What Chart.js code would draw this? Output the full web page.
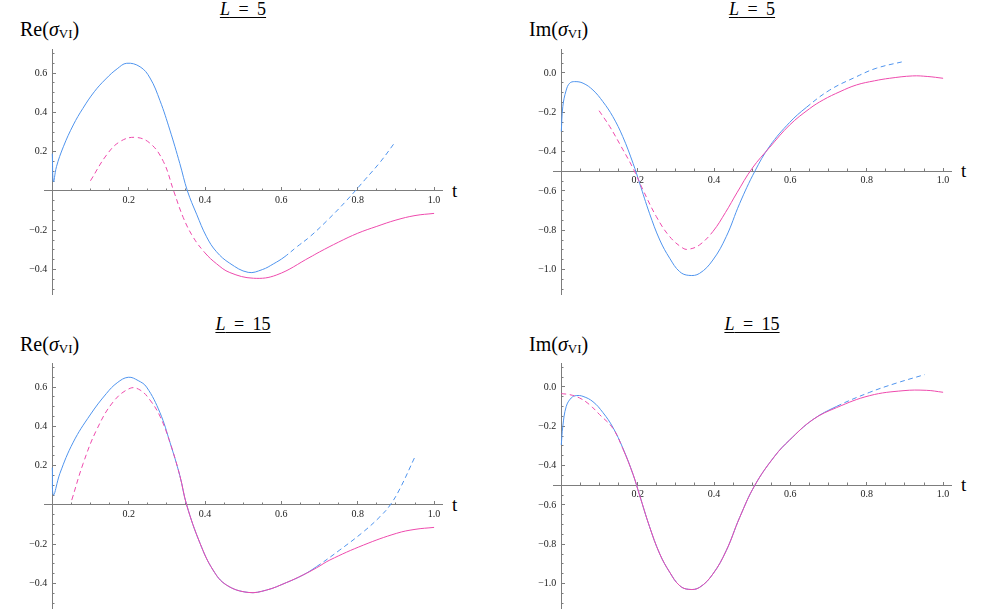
<!DOCTYPE html>
<html>
<head>
<meta charset="utf-8">
<script src="https://cdn.jsdelivr.net/npm/chart.js@4.4.1/dist/chart.umd.min.js"></script>
<style>
  body { margin: 0; background: #fff; width: 986px; height: 609px; position: relative; overflow: hidden;
         font-family: "Liberation Serif", serif; color: #000; }
  canvas { position: absolute; }
  .ttl { position: absolute; width: 200px; text-align: center; font-size: 18px; line-height: 18px; word-spacing: 4px; white-space: nowrap; }
  .ttl span { text-decoration: underline; text-underline-offset: 2px; text-decoration-thickness: 1px; }
  .ylab { position: absolute; font-size: 20px; line-height: 20px; white-space: nowrap; }
  .ylab .s { font-size: 13px; position: relative; top: 2px; }
  .tlab { position: absolute; font-size: 19px; line-height: 19px; }
</style>
</head>
<body>
<div class="ttl" style="left:143px;top:0px"><span><i>L</i> = 5</span></div>
<div class="ttl" style="left:652px;top:0px"><span><i>L</i> = 5</span></div>
<div class="ttl" style="left:143px;top:315px"><span><i>L</i> = 15</span></div>
<div class="ttl" style="left:652px;top:315px"><span><i>L</i> = 15</span></div>

<div class="ylab" style="left:20px;top:19px">Re(<i>σ</i><span class="s">VI</span>)</div>
<div class="ylab" style="left:529px;top:19px">Im(<i>σ</i><span class="s">VI</span>)</div>
<div class="ylab" style="left:20px;top:334px">Re(<i>σ</i><span class="s">VI</span>)</div>
<div class="ylab" style="left:529px;top:334px">Im(<i>σ</i><span class="s">VI</span>)</div>

<div class="tlab" style="left:452px;top:181px">t</div>
<div class="tlab" style="left:961px;top:161px">t</div>
<div class="tlab" style="left:452px;top:495px">t</div>
<div class="tlab" style="left:961px;top:475px">t</div>

<canvas id="c1" width="477" height="295" style="left:0px;top:0px"></canvas>
<canvas id="c2" width="477" height="295" style="left:509px;top:0px"></canvas>
<canvas id="c3" width="477" height="295" style="left:0px;top:314px"></canvas>
<canvas id="c4" width="477" height="295" style="left:509px;top:314px"></canvas>

<script>
Chart.defaults.font.family = '"Liberation Serif", "Times New Roman", serif'

// tick labels
const tTicks = [0.2, 0.4, 0.6, 0.8, 1.0]
const tMinor = [0.05, 0.1, 0.15, 0.25, 0.3, 0.35, 0.45, 0.5, 0.55, 0.65, 0.7, 0.75, 0.85, 0.9, 0.95]
const reTicks = [-0.4, -0.2, 0.2, 0.4, 0.6]
const reMinor = [-0.5, -0.45, -0.35, -0.3, -0.25, -0.15, -0.1, -0.05, 0.05, 0.1, 0.15, 0.25, 0.3, 0.35, 0.45, 0.5, 0.55, 0.65, 0.7]
const imTicks = [-1.0, -0.8, -0.6, -0.4, -0.2, 0.0]
const imMinor = [-1.1, -1.05, -0.95, -0.9, -0.85, -0.75, -0.7, -0.65, -0.55, -0.45, -0.35, -0.3, -0.25, -0.15, -0.1, -0.05, 0.05, 0.1]

// L = 5, Re(sigma)
const re5BlueT = [0, 0.003, 0.011, 0.029, 0.055, 0.08, 0.11, 0.14, 0.17, 0.195, 0.23, 0.256, 0.282, 0.308, 0.334, 0.354, 0.378, 0.404, 0.43, 0.465, 0.513, 0.55, 0.58, 0.607, 0.64, 0.675, 0.72, 0.77, 0.82, 0.86, 0.898]
const re5BlueY = [0.19, 0.047, 0.124, 0.225, 0.336, 0.42, 0.505, 0.57, 0.622, 0.65, 0.632, 0.575, 0.46, 0.31, 0.14, 0.0, -0.118, -0.233, -0.309, -0.368, -0.414, -0.40, -0.37, -0.337, -0.285, -0.232, -0.15, -0.05, 0.06, 0.15, 0.249]
const re5PinkT = [0.1, 0.142, 0.177, 0.217, 0.256, 0.291, 0.318, 0.343, 0.369, 0.40, 0.43, 0.465, 0.527, 0.588, 0.675, 0.70, 0.75, 0.80, 0.85, 0.90, 0.95, 1.0]
const re5PinkY = [0.052, 0.183, 0.251, 0.273, 0.243, 0.15, 0.0, -0.135, -0.235, -0.315, -0.37, -0.415, -0.444, -0.427, -0.337, -0.31, -0.26, -0.215, -0.18, -0.148, -0.125, -0.114]

// L = 5, Im(sigma)
const im5BlueT = [0, 0.004, 0.013, 0.022, 0.035, 0.057, 0.083, 0.109, 0.135, 0.161, 0.188, 0.205, 0.231, 0.258, 0.284, 0.31, 0.334, 0.362, 0.397, 0.432, 0.467, 0.507, 0.546, 0.598, 0.642, 0.703, 0.773, 0.825, 0.9]
const im5BlueY = [-0.298, -0.171, -0.087, -0.052, -0.044, -0.052, -0.087, -0.146, -0.222, -0.324, -0.46, -0.56, -0.714, -0.85, -0.943, -1.011, -1.03, -1.02, -0.952, -0.833, -0.665, -0.5, -0.372, -0.252, -0.175, -0.087, -0.019, 0.024, 0.06]
const im5PinkT = [0.099, 0.127, 0.157, 0.188, 0.214, 0.249, 0.284, 0.319, 0.334, 0.362, 0.397, 0.43, 0.46, 0.50, 0.546, 0.598, 0.65, 0.686, 0.73, 0.773, 0.82, 0.86, 0.92, 0.96, 1.0]
const im5PinkY = [-0.192, -0.273, -0.375, -0.485, -0.595, -0.731, -0.833, -0.892, -0.897, -0.875, -0.807, -0.71, -0.61, -0.485, -0.378, -0.265, -0.182, -0.137, -0.095, -0.061, -0.04, -0.027, -0.015, -0.018, -0.027]

// L = 15, Re(sigma)
const re15BlueT = [0, 0.003, 0.02, 0.055, 0.099, 0.142, 0.17, 0.199, 0.225, 0.247, 0.282, 0.308, 0.334, 0.352, 0.387, 0.421, 0.456, 0.513, 0.561, 0.613, 0.657, 0.692, 0.753, 0.815, 0.858, 0.885, 0.911, 0.95]
const re15BlueY = [0.19, 0.051, 0.161, 0.32, 0.458, 0.568, 0.622, 0.65, 0.633, 0.6, 0.47, 0.32, 0.15, 0.0, -0.195, -0.331, -0.407, -0.445, -0.433, -0.395, -0.356, -0.314, -0.229, -0.136, -0.06, 0.0, 0.085, 0.246]
const re15PinkT = [0.051, 0.081, 0.116, 0.16, 0.204, 0.23, 0.256, 0.282, 0.308, 0.334, 0.352, 0.387, 0.421, 0.456, 0.513, 0.561, 0.613, 0.657, 0.692, 0.727, 0.815, 0.902, 0.95, 1.0]
const re15PinkY = [0.025, 0.212, 0.382, 0.526, 0.594, 0.585, 0.534, 0.452, 0.32, 0.15, 0.0, -0.195, -0.331, -0.407, -0.445, -0.433, -0.395, -0.356, -0.32, -0.28, -0.204, -0.144, -0.124, -0.114]

// L = 15, Im(sigma)
const im15BlueT = [0, 0.004, 0.013, 0.026, 0.039, 0.057, 0.083, 0.109, 0.135, 0.161, 0.188, 0.205, 0.231, 0.258, 0.284, 0.31, 0.334, 0.362, 0.397, 0.432, 0.467, 0.507, 0.559, 0.598, 0.659, 0.721, 0.808, 0.878, 0.952]
const im15BlueY = [-0.295, -0.2, -0.099, -0.056, -0.044, -0.048, -0.075, -0.13, -0.205, -0.31, -0.445, -0.55, -0.71, -0.85, -0.943, -1.011, -1.03, -1.02, -0.952, -0.833, -0.665, -0.5, -0.352, -0.27, -0.166, -0.099, -0.027, 0.02, 0.063]
const im15PinkT = [0, 0.022, 0.048, 0.074, 0.1, 0.135, 0.161, 0.188, 0.205, 0.231, 0.258, 0.284, 0.31, 0.334, 0.362, 0.397, 0.432, 0.467, 0.507, 0.559, 0.598, 0.659, 0.721, 0.808, 0.895, 0.956, 1.0]
const im15PinkY = [-0.034, -0.039, -0.056, -0.09, -0.14, -0.21, -0.313, -0.445, -0.55, -0.71, -0.85, -0.943, -1.011, -1.03, -1.02, -0.952, -0.833, -0.665, -0.5, -0.352, -0.27, -0.166, -0.105, -0.044, -0.019, -0.017, -0.027]

// where the blue curve turns dashed / the pink curve turns solid
const re5BlueDashFrom = 0.607, re5PinkDashTo = 0.40
const im5BlueDashFrom = 0.60, im5PinkDashTo = 0.40
const re15BlueDashFrom = 0.66, re15PinkDashTo = 0.35
const im15BlueDashFrom = 0.72, im15PinkDashTo = 0.17

const BLUE = '#4f94ee'
const PINK = '#ee4aad'
const AXIS = '#7d7d7d'
const DASH = [5, 3.5]

const fmt = v => (v < -1e-9 ? '\u2212' : '') + Math.abs(v).toFixed(1)
const pts = (t, y) => t.map((v, i) => ({ x: v, y: y[i] }))

function line(t, y, color, dashFn) {
  return {
    data: pts(t, y),
    xAxisID: 'x', yAxisID: 'y',
    borderColor: color, borderWidth: 1, pointRadius: 0,
    tension: 0.4, fill: false,
    segment: { borderDash: dashFn }
  }
}

// zero the layout footprint so the axes can sit inside the plot
const flat = s => { s.height = 0; s.paddingLeft = s.paddingRight = s.paddingTop = s.paddingBottom = 0 }
const thin = s => { s.width = 0; s.paddingLeft = s.paddingRight = s.paddingTop = s.paddingBottom = 0 }
const tickFont = { family: '"Liberation Serif", "Times New Roman", serif', size: 10 }

function axisSet(yMin, yMax, yTicks, yMinor, xAt) {
  const common = { type: 'linear', grid: { drawOnChartArea: false, color: AXIS } }
  return {
    x: { ...common, axis: 'x', min: -0.0217, max: 1.0207, position: { y: xAt },
      afterBuildTicks: s => { s.ticks = tTicks.map(v => ({ value: v })) }, afterFit: flat,
      grid: { ...common.grid, tickLength: -4 }, border: { color: AXIS },
      ticks: { autoSkip: false, maxRotation: 0, padding: 7, color: '#222', font: tickFont, callback: v => fmt(v) } },
    xm: { ...common, axis: 'x', min: -0.0217, max: 1.0207, position: { y: xAt },
      afterBuildTicks: s => { s.ticks = tMinor.map(v => ({ value: v })) }, afterFit: flat,
      grid: { ...common.grid, tickLength: -2.5 }, border: { display: false }, ticks: { display: false } },
    y: { ...common, axis: 'y', min: yMin, max: yMax, position: { x: 0 },
      afterBuildTicks: s => { s.ticks = yTicks.map(v => ({ value: v })) }, afterFit: thin,
      grid: { ...common.grid, tickLength: -4 }, border: { color: AXIS },
      ticks: { autoSkip: false, color: '#222', font: tickFont, callback: v => fmt(v) + '  ' } },
    ym: { ...common, axis: 'y', min: yMin, max: yMax, position: { x: 0 },
      afterBuildTicks: s => { s.ticks = yMinor.map(v => ({ value: v })) }, afterFit: thin,
      grid: { ...common.grid, tickLength: -2.5 }, border: { display: false }, ticks: { display: false } }
  }
}

function panel(id, scales, blueT, blueY, blueCut, pinkT, pinkY, pinkCut) {
  new Chart(document.getElementById(id), {
    type: 'line',
    data: {
      datasets: [
        line(pinkT, pinkY, PINK, ctx => ctx.p1.parsed.x <= pinkCut + 1e-9 ? DASH : undefined),
        line(blueT, blueY, BLUE, ctx => ctx.p0.parsed.x >= blueCut - 1e-9 ? DASH : undefined)
      ]
    },
    options: {
      responsive: false, animation: false, events: [],
      layout: { padding: { left: 44, right: 35, top: 49, bottom: 1 } },
      plugins: { legend: { display: false }, tooltip: { enabled: false } },
      scales
    }
  })
}

panel('c1', axisSet(-0.5242, 0.7226, reTicks, reMinor, 0), re5BlueT, re5BlueY, re5BlueDashFrom, re5PinkT, re5PinkY, re5PinkDashTo)
panel('c2', axisSet(-1.1248, 0.122, imTicks, imMinor, -0.5), im5BlueT, im5BlueY, im5BlueDashFrom, im5PinkT, im5PinkY, im5PinkDashTo)
panel('c3', axisSet(-0.5242, 0.7226, reTicks, reMinor, 0), re15BlueT, re15BlueY, re15BlueDashFrom, re15PinkT, re15PinkY, re15PinkDashTo)
panel('c4', axisSet(-1.1248, 0.122, imTicks, imMinor, -0.5), im15BlueT, im15BlueY, im15BlueDashFrom, im15PinkT, im15PinkY, im15PinkDashTo)
</script>
</body>
</html>
